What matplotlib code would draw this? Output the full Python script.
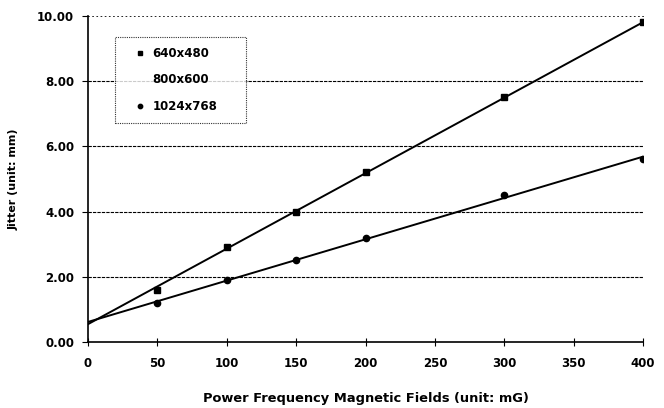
import numpy as np
import matplotlib.pyplot as plt

# data
fields = [0, 50, 100, 150, 200, 300, 400]
jitter_640 = [0.6, 1.6, 2.9, 4.0, 5.2, 7.5, 9.8]
jitter_1024 = [0.6, 1.2, 1.9, 2.5, 3.2, 4.5, 5.6]
x_ticks = [0, 50, 100, 150, 200, 250, 300, 350, 400]
y_ticks = [0, 2, 4, 6, 8, 10]

plt.rcParams['font.family'] = ['DejaVu Sans']
plt.rcParams['font.weight'] = 'bold'

fig = plt.figure(figsize=(6.64, 4.08), dpi=100)
ax = fig.add_axes([0.1325, 0.162, 0.836, 0.799])

# gridlines (top one is only a faint dotted border)
for y in y_ticks[1:-1]:
    ax.axhline(y, color='black', lw=0.8, ls=(0, (3, 1)), zorder=1)

xs = np.array([0, 400])
# trend lines fitted through each series
fit1 = np.polyfit(fields, jitter_640, 1)
fit2 = np.polyfit(fields, jitter_1024, 1)
ax.plot(xs, np.polyval(fit1, xs), color='black', lw=1.4, zorder=2)
ax.plot(xs, np.polyval(fit2, xs), color='black', lw=1.4, zorder=2)

ax.plot(fields[1:], jitter_640[1:], 's', color='black', ms=4.5, zorder=3, label='640x480')
ax.plot([], [], ' ', label='800x600')
ax.plot(fields[1:], jitter_1024[1:], 'o', color='black', ms=4.5, zorder=3, label='1024x768')

ax.set_xlim(0, 400)
ax.set_ylim(0, 10)
ax.set_xticks(x_ticks)
ax.set_yticks(y_ticks)
ax.set_yticklabels(['%.2f' % v for v in y_ticks])
ax.tick_params(axis='x', direction='inout', length=6, labelsize=8.5, pad=8)
ax.tick_params(axis='y', direction='out', length=4, labelsize=8.5, pad=6)

ax.spines['right'].set_visible(False)
ax.spines['top'].set_linestyle((0, (1, 4)))
ax.spines['top'].set_linewidth(0.6)
ax.spines['left'].set_linewidth(1.2)
ax.spines['bottom'].set_linewidth(1.2)

ax.set_xlabel('Power Frequency Magnetic Fields (unit: mG)', fontsize=9.4, fontweight='bold', labelpad=16)
ax.set_ylabel('Jitter (unit: mm)', fontsize=8, fontweight='bold', labelpad=13)

leg = ax.legend(loc='upper left', bbox_to_anchor=(0.049, 0.676, 0.236, 0.26), mode='expand',
                fontsize=8.5, frameon=True, fancybox=False, handlelength=2.5, handletextpad=-0.2,
                labelspacing=1.15, borderpad=0.85, markerscale=0.7, borderaxespad=0)
leg.get_frame().set_edgecolor('black')
leg.get_frame().set_linestyle((0, (1, 1)))
leg.get_frame().set_linewidth(0.8)

fig.savefig('out.png', dpi=100)
